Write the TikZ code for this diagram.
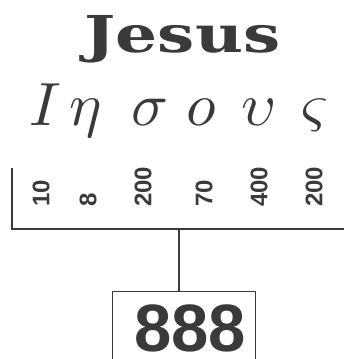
\documentclass[tikz,border=0pt]{standalone}
\usepackage{fontspec}
\newfontfamily\numfont{Liberation Sans}
\newfontfamily\titlefont{DejaVu Serif}
\definecolor{ink}{RGB}{58,58,58}
\tikzset{
  greek/.style={anchor=base, inner sep=0pt, scale=6.1, text=ink},
  value/.style={rotate=90, anchor=west, inner sep=0pt, text=ink,
    font=\numfont\bfseries\fontsize{24}{24}\selectfont},
  line/.style={draw=ink, line width=1.1pt},
}
\begin{document}
\begin{tikzpicture}[x=1pt,y=-1pt]
\useasboundingbox (0,0) rectangle (344,359);
\clip (0,0) rectangle (344,359);
\node[anchor=base, inner sep=0pt, text=ink, xscale=1.3,
  font=\titlefont\bfseries\fontsize{50.8}{50.8}\selectfont] (title) at (182.5,52) {Jesus};
\node[greek] (g1) at (45,125) {$I$};
\node[greek] (g2) at (86,125) {$\eta$};
\node[greek] (g3) at (150,125) {$\sigma$};
\node[greek] (g4) at (201,125) {$o$};
\node[greek] (g5) at (259,125) {$\upsilon$};
\node[greek] (g6) at (315,125) {$\varsigma$};
\node[value] (v1) at (41,207) {10};
\node[value] (v2) at (88,207) {8};
\node[value] (v3) at (143,207) {200};
\node[value] (v4) at (204,207) {70};
\node[value] (v5) at (259,207) {400};
\node[value] (v6) at (314,207) {200};
\coordinate (top) at (12,168);
\coordinate (corner) at (12,229);
\coordinate (right) at (344,229);
\coordinate (mid) at (179,229);
\node[line, minimum width=143pt, minimum height=80pt, anchor=north west,
  inner sep=0pt] (box) at (112,291) {};
\node[anchor=base, inner sep=0pt, text=ink,
  font=\numfont\bfseries\fontsize{67}{67}\selectfont] (sum) at (190,351) {888};
\draw[line] (top) -- (corner) -- (right);
\draw[line] (mid) -- (mid |- box.north);
\end{tikzpicture}
\end{document}
